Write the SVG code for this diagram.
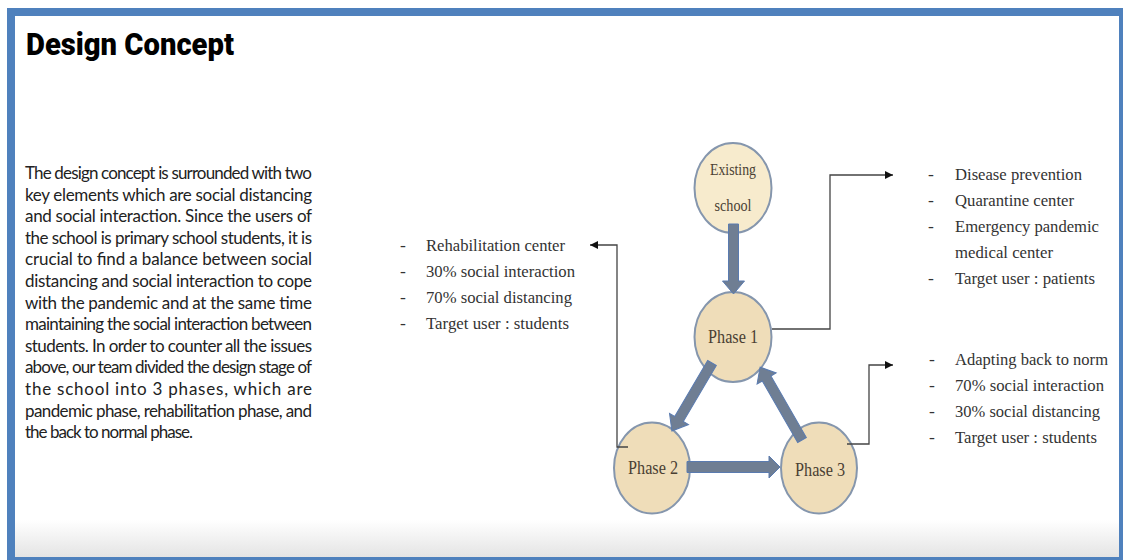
<svg xmlns="http://www.w3.org/2000/svg" width="1123" height="560" viewBox="0 0 1123 560">
<defs>
<linearGradient id="bg" x1="0" y1="0" x2="0" y2="1">
<stop offset="0" stop-color="#ffffff"/>
<stop offset="1" stop-color="#e4e4e4"/>
</linearGradient>
<marker id="ah" viewBox="0 0 10 10" refX="10" refY="5" markerWidth="8" markerHeight="8" markerUnits="userSpaceOnUse" orient="auto">
<path d="M0,0 L10,5 L0,10 z" fill="#111"/>
</marker>
<style>
.para{font-family:Lato,"Liberation Sans",sans-serif;font-size:17px;fill:#222}
.lst{font-family:"Liberation Serif",serif;font-size:17.5px;fill:#333}
.ntx{font-family:"Liberation Serif",serif;fill:#4a3f33}
.node{stroke:#8596ad;stroke-width:2}
.fat{fill:#6f7e93;stroke:#5a7bb0;stroke-width:1}
.conn{fill:none;stroke:#444;stroke-width:1.3}
</style>
</defs>
<rect x="0" y="0" width="1123" height="560" fill="#ffffff"/>
<rect x="7" y="8" width="1116" height="552" fill="#4f81bd"/>
<rect x="15" y="16" width="1104" height="541" fill="#ffffff"/>
<rect x="15" y="520" width="1104" height="37" fill="url(#bg)"/>

<text x="26" y="55" font-family="Roboto,'Liberation Sans',sans-serif" font-weight="900" font-size="32" textLength="208" lengthAdjust="spacingAndGlyphs" fill="#000">Design Concept</text>

<g id="paragraph" class="para">
<text x="25" y="179" textLength="287" lengthAdjust="spacing">The design concept is surrounded with two</text>
<text x="25" y="200.6" textLength="287" lengthAdjust="spacing">key elements which are social distancing</text>
<text x="25" y="222.2" textLength="287" lengthAdjust="spacing">and social interaction. Since the users of</text>
<text x="25" y="243.8" textLength="287" lengthAdjust="spacing">the school is primary school students, it is</text>
<text x="25" y="265.4" textLength="287" lengthAdjust="spacing">crucial to find a balance between social</text>
<text x="25" y="287" textLength="287" lengthAdjust="spacing">distancing and social interaction to cope</text>
<text x="25" y="308.6" textLength="287" lengthAdjust="spacing">with the pandemic and at the same time</text>
<text x="25" y="330.2" textLength="287" lengthAdjust="spacing">maintaining the social interaction between</text>
<text x="25" y="351.8" textLength="287" lengthAdjust="spacing">students. In order to counter all the issues</text>
<text x="25" y="373.4" textLength="287" lengthAdjust="spacing">above, our team divided the design stage of</text>
<text x="25" y="395" textLength="287" lengthAdjust="spacing">the school into 3 phases, which are</text>
<text x="25" y="416.6" textLength="287" lengthAdjust="spacing">pandemic phase, rehabilitation phase, and</text>
<text x="25" y="438.2" textLength="168" lengthAdjust="spacing">the back to normal phase.</text>
</g>

<g id="existing-school">
<ellipse class="node" cx="733" cy="188" rx="38.5" ry="45" fill="#f7ebcd"/>
<text class="ntx" x="733" y="175" font-size="16.5" text-anchor="middle" textLength="46" lengthAdjust="spacingAndGlyphs">Existing</text>
<text class="ntx" x="733" y="211" font-size="16.5" text-anchor="middle" textLength="37" lengthAdjust="spacingAndGlyphs">school</text>
</g>
<g id="phase1">
<ellipse class="node" cx="733" cy="337" rx="38.5" ry="45" fill="#efddb9"/>
<text class="ntx" x="733" y="343" font-size="19.5" text-anchor="middle" textLength="50" lengthAdjust="spacingAndGlyphs">Phase 1</text>
</g>
<g id="phase2">
<ellipse class="node" cx="652" cy="468" rx="38" ry="45.5" fill="#efddb9"/>
<text class="ntx" x="653" y="474" font-size="19.5" text-anchor="middle" textLength="50" lengthAdjust="spacingAndGlyphs">Phase 2</text>
</g>
<g id="phase3">
<ellipse class="node" cx="819" cy="468" rx="38" ry="45.5" fill="#efddb9"/>
<text class="ntx" x="820" y="476" font-size="19.5" text-anchor="middle" textLength="50" lengthAdjust="spacingAndGlyphs">Phase 3</text>
</g>

<g id="connectors">
<g transform="translate(733.5,224) rotate(90)"><polygon class="fat" points="0,-5 57,-5 57,-11 70,0 57,11 57,5 0,5"/></g>
<g transform="translate(712,363) rotate(120.5)"><polygon class="fat" points="0,-5 65,-5 65,-11 79,0 65,11 65,5 0,5"/></g>
<g transform="translate(687,467) rotate(0)"><polygon class="fat" points="0,-5.5 82,-5.5 82,-11 93,0 82,11 82,5.5 0,5.5"/></g>
<g transform="translate(802,440) rotate(-119.9)"><polygon class="fat" points="0,-5 71,-5 71,-11 84,0 71,11 71,5 0,5"/></g>
<polyline class="conn" points="772,329 830,329 830,175 893,175" marker-end="url(#ah)"/>
<polyline class="conn" points="628,447 617,447 617,245 590,245" marker-end="url(#ah)"/>
<polyline class="conn" points="847,444 869,444 869,365 893,365" marker-end="url(#ah)"/>
</g>

<g id="list-phase2" class="lst">
<text x="400" y="251">-</text><text x="426" y="251" textLength="139" lengthAdjust="spacingAndGlyphs">Rehabilitation center</text>
<text x="400" y="277">-</text><text x="426" y="277" textLength="149" lengthAdjust="spacingAndGlyphs">30% social interaction</text>
<text x="400" y="303">-</text><text x="426" y="303" textLength="146" lengthAdjust="spacingAndGlyphs">70% social distancing</text>
<text x="400" y="329">-</text><text x="426" y="329" textLength="143" lengthAdjust="spacingAndGlyphs">Target user : students</text>
</g>
<g id="list-phase1" class="lst">
<text x="928" y="180">-</text><text x="955" y="180" textLength="127" lengthAdjust="spacingAndGlyphs">Disease prevention</text>
<text x="928" y="206">-</text><text x="955" y="206" textLength="119" lengthAdjust="spacingAndGlyphs">Quarantine center</text>
<text x="928" y="232">-</text><text x="955" y="232" textLength="144" lengthAdjust="spacingAndGlyphs">Emergency pandemic</text>
<text x="955" y="258" textLength="98" lengthAdjust="spacingAndGlyphs">medical center</text>
<text x="928" y="284">-</text><text x="955" y="284" textLength="140" lengthAdjust="spacingAndGlyphs">Target user : patients</text>
</g>
<g id="list-phase3" class="lst">
<text x="929" y="365">-</text><text x="955" y="365" textLength="153" lengthAdjust="spacingAndGlyphs">Adapting back to norm</text>
<text x="929" y="391">-</text><text x="955" y="391" textLength="149" lengthAdjust="spacingAndGlyphs">70% social interaction</text>
<text x="929" y="417">-</text><text x="955" y="417" textLength="145" lengthAdjust="spacingAndGlyphs">30% social distancing</text>
<text x="929" y="443">-</text><text x="955" y="443" textLength="142" lengthAdjust="spacingAndGlyphs">Target user : students</text>
</g>
</svg>
